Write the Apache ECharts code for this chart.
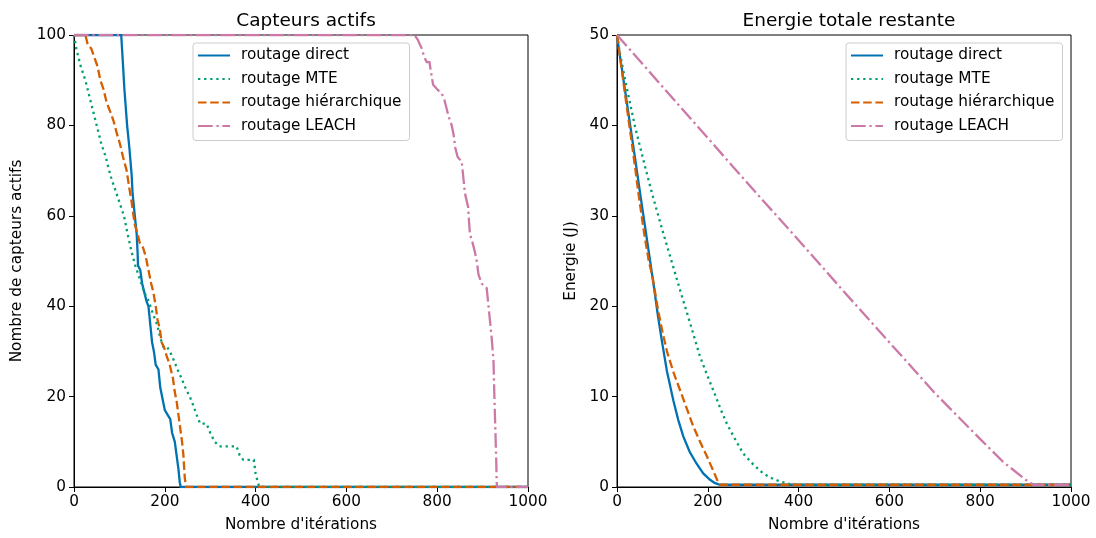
<!DOCTYPE html>
<html>
<head>
<meta charset="utf-8">
<script src="https://cdn.jsdelivr.net/npm/echarts@6/dist/echarts.min.js"></script>
<style>html,body{margin:0;padding:0;background:#fff;font-family:"DejaVu Sans"}#c{width:1096px;height:538px}</style>
</head>
<body>
<div id="c"></div>
<script>
// ---------- Data ----------
const seriesNames = ['routage direct', 'routage MTE', 'routage hiérarchique', 'routage LEACH'];
const titles = ['Capteurs actifs', 'Energie totale restante'];
const xLabel = "Nombre d'itérations";
const yLabels = ['Nombre de capteurs actifs', 'Energie (J)'];
const xTicks = [0, 200, 400, 600, 800, 1000];
const yTicksLeft = [0, 20, 40, 60, 80, 100];
const yTicksRight = [0, 10, 20, 30, 40, 50];

// Left: active sensors [iteration, count]
const capDirect = [[0,100],[104,100],[107,95],[111,88],[117,80],[122,75],[127,69],[129,65],[133,61],[138,56],[140,52],[141,49],[146,48],[150,45],[155,43],[160,41],[164,40],[168,36],[172,32],[176,30],[180,27],[186,26],[190,22],[194,20],[200,17],[206,16],[212,15],[216,12],[222,10],[226,7],[230,4],[233,1],[235,0],[1000,0]];
const capMTE = [[0,100],[5,97],[15,93],[25,90],[35,86],[50,80],[60,76],[70,73],[80,69],[90,66],[100,63],[110,60],[118,56],[127,52],[135,49],[145,46],[155,43],[165,41],[175,38],[183,36],[190,33],[197,31],[205,31],[211,30],[220,28],[228,26],[237,24],[245,22],[255,20],[263,18],[270,16],[278,14],[292,14],[300,12],[310,10],[320,9],[358,9],[365,7],[373,6],[396,6],[400,3],[405,1],[408,0],[1000,0]];
const capHier = [[0,100],[25,100],[30,98],[38,97],[45,95],[52,93],[58,90],[65,88],[72,85],[80,83],[87,81],[95,78],[101,76],[108,73],[116,70],[122,66],[127,63],[131,60],[134,58],[140,56],[145,54],[152,53],[158,51],[164,48],[170,45],[175,43],[180,40],[184,37],[189,35],[193,32],[198,31],[204,29],[211,27],[218,24],[222,21],[226,19],[230,16],[234,13],[238,10],[241,7],[244,2],[247,0],[1000,0]];
const capLeach = [[0,100],[750,100],[757,99],[766,97],[772,95],[777,94],[783,94],[786,92],[791,89],[800,88],[810,87],[815,86],[820,84],[825,82],[832,80],[836,78],[840,75],[845,73],[854,72],[857,69],[861,65],[868,62],[870,59],[872,56],[878,54],[883,52],[887,50],[891,47],[898,45],[909,44],[912,41],[916,37],[920,33],[924,28],[926,20],[928,13],[930,6],[931,1],[932,0],[1000,0]];

// Right: remaining energy [iteration, J]
const enDirect = [[0,50],[4,48.5],[10,46.5],[20,43.1],[30,39.7],[40,36.3],[50,32.8],[60,29.4],[70,26],[80,22.6],[90,19.0],[100,15.8],[110,12.8],[124,9.6],[135,7.4],[146,5.6],[160,3.9],[175,2.6],[190,1.5],[205,0.8],[215,0.45],[227,0.25],[1000,0.25]];
const enMTE = [[0,50],[7,47.8],[20,44.5],[40,39.8],[60,35.8],[77,32.5],[100,28.4],[120,25],[140,21.6],[160,18.3],[183,14.4],[200,12.2],[212,10.7],[230,8.4],[242,7],[260,5.3],[278,3.7],[300,2.5],[322,1.5],[340,1.0],[359,0.6],[375,0.4],[388,0.25],[1000,0.25]];
const enHier = [[0,50],[10,46.3],[20,42.6],[30,39],[40,35.3],[48,32.2],[60,28],[70,25],[78,23.3],[90,19.7],[100,17.2],[110,15.0],[125,12.6],[139,10.7],[155,8.5],[168,6.7],[183,5],[198,3.4],[212,1.8],[223,0.5],[227,0.25],[1000,0.25]];
const enLeach = [[0,50],[100,44.3],[200,38.6],[300,32.9],[400,27.3],[500,21.6],[600,16],[700,10.4],[800,5.3],[850,2.8],[900,0.8],[917,0.25],[1000,0.25]];

// ---------- Styles ----------
const FONT = '"DejaVu Sans"';
const colors = ['#0072B2', '#009E73', '#D55E00', '#CC79A7'];
const LW = 2.3;
const dashes = ['solid', [2.3, 3.8], [8.5, 3.7], [14.7, 3.7, 2.3, 3.7]];
const FS = 15.3;
const TFS = 18.5;

function mkSeries(data, i, gi) {
  return {
    type: 'line', name: seriesNames[i], data: data,
    xAxisIndex: gi, yAxisIndex: gi,
    showSymbol: false, symbol: 'none', animation: false,
    color: colors[i],
    lineStyle: { color: colors[i], width: LW, type: dashes[i], cap: 'butt', join: 'miter' },
    emphasis: { disabled: true }
  };
}

const grids = [
  { left: 74, top: 35, width: 454, height: 452, show: true, borderColor: '#000', borderWidth: 1, backgroundColor: 'transparent' },
  { left: 617, top: 35, width: 454, height: 452, show: true, borderColor: '#000', borderWidth: 1, backgroundColor: 'transparent' }
];

const plainNum = v => String(v);

function mkX(gi) {
  return {
    type: 'value', gridIndex: gi, min: xTicks[0], max: xTicks[xTicks.length - 1], interval: xTicks[1] - xTicks[0],
    name: xLabel, nameLocation: 'middle', nameGap: 31,
    nameTextStyle: { fontFamily: FONT, fontSize: FS, color: '#000' },
    axisLine: { show: true, onZero: false, lineStyle: { color: '#000', width: 1 } },
    axisTick: { show: true, inside: false, length: 5, lineStyle: { color: '#000', width: 1 } },
    axisLabel: { fontFamily: FONT, fontSize: FS, color: '#000', margin: 8, formatter: plainNum },
    splitLine: { show: false }
  };
}
function mkY(gi, ticks, name, gap) {
  return {
    type: 'value', gridIndex: gi, min: ticks[0], max: ticks[ticks.length - 1], interval: ticks[1] - ticks[0],
    name: name, nameLocation: 'middle', nameGap: gap,
    nameTextStyle: { fontFamily: FONT, fontSize: FS, color: '#000' },
    axisLine: { show: true, onZero: false, lineStyle: { color: '#000', width: 1 } },
    axisTick: { show: true, inside: false, length: 5, lineStyle: { color: '#000', width: 1 } },
    axisLabel: { fontFamily: FONT, fontSize: FS, color: '#000', margin: 8, formatter: plainNum },
    splitLine: { show: false }
  };
}
function mkLegend(left) {
  return {
    orient: 'vertical', left: left, top: 43,
    data: seriesNames,
    itemWidth: 32, itemHeight: 15, itemGap: 8.5,
    padding: [5, 8, 7, 4],
    borderColor: '#cccccc', borderWidth: 1, borderRadius: 3,
    backgroundColor: 'rgba(255,255,255,0.8)',
    selectedMode: false,
    itemStyle: { opacity: 0, borderWidth: 0, color: 'transparent' },
    textStyle: { fontFamily: FONT, fontSize: FS, color: '#000', padding: [0, 0, 0, 6] }
  };
}

const option = {
  backgroundColor: '#fff',
  animation: false,
  textStyle: { fontFamily: FONT },
  title: [
    { text: titles[0], left: 301, top: 7, textAlign: 'center', textStyle: { fontFamily: FONT, fontSize: TFS, fontWeight: 'normal', color: '#000' } },
    { text: titles[1], left: 844, top: 7, textAlign: 'center', textStyle: { fontFamily: FONT, fontSize: TFS, fontWeight: 'normal', color: '#000' } }
  ],
  legend: [mkLegend(193), mkLegend(846)],
  grid: grids,
  xAxis: [mkX(0), mkX(1)],
  yAxis: [mkY(0, yTicksLeft, yLabels[0], 49), mkY(1, yTicksRight, yLabels[1], 38)],
  series: [
    mkSeries(capDirect, 0, 0), mkSeries(capMTE, 1, 0), mkSeries(capHier, 2, 0), mkSeries(capLeach, 3, 0),
    mkSeries(enDirect, 0, 1), mkSeries(enMTE, 1, 1), mkSeries(enHier, 2, 1), mkSeries(enLeach, 3, 1)
  ]
};

const chart = echarts.init(document.getElementById('c'), null, { renderer: 'canvas' });
chart.setOption(option);
</script>
</body>
</html>
